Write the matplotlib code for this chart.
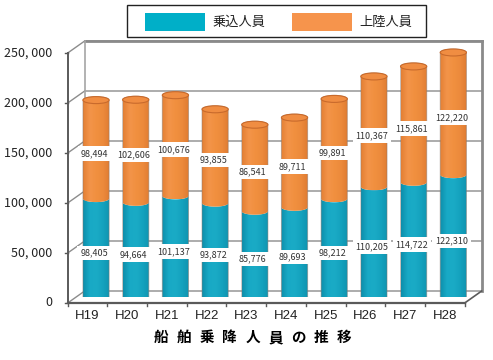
import numpy as np
import matplotlib
matplotlib.use("Agg")
import matplotlib.pyplot as plt
from matplotlib.path import Path
from matplotlib.patches import PathPatch, Ellipse, Rectangle
from matplotlib.colors import LinearSegmentedColormap

plt.rcParams['font.family'] = ['Noto Sans CJK JP', 'DejaVu Sans']

# 船舶乗降人員（人）
years = ['H19', 'H20', 'H21', 'H22', 'H23', 'H24', 'H25', 'H26', 'H27', 'H28']
boarding = [98405, 94664, 101137, 93872, 85776, 89693, 98212, 110205, 114722, 122310]
landing = [98494, 102606, 100676, 93855, 86541, 89711, 99891, 110367, 115861, 122220]
series_names = ['乗込人員', '上陸人員']
title = '船舶乗降人員の推移'
yticks = [0, 50000, 100000, 150000, 200000, 250000]

teal = '#00afc8'
orange = '#f6944c'
teal_cmap = LinearSegmentedColormap.from_list(
    'teal', ['#0d8eab', '#18a9c5', '#1aabc6', '#14a2be', '#0f93b0'])
orange_cmap = LinearSegmentedColormap.from_list(
    'orange', ['#e37f34', '#f3944a', '#f1903f', '#ec8a3c', '#df7b31'])

fig = plt.figure(figsize=(4.93, 3.6), dpi=100)
ax = fig.add_axes([0.1545, 0.175, 0.8053, 0.6944])
ax.set_xlim(-0.5, 9.5)
ax.set_ylim(0, 250000)
ax.axis('off')

# depth offsets of the pseudo-3D box (front = -d, back = +d)
dx, dy = 0.214, 6000
x0, x1 = -0.5, 9.5
ymax = yticks[-1]

# back wall grid
for v in yticks:
    ax.plot([x0 + dx, x1 + dx], [v + dy, v + dy], color='#a6a6a6', lw=1.3,
            clip_on=False, zorder=1)
    # left wall diagonals
    ax.plot([x0 - dx, x0 + dx], [v - dy, v + dy], color='#8c8c8c', lw=1.0,
            clip_on=False, zorder=1)
    # small tick on the front axis
    ax.plot([x0 - dx - 0.07, x0 - dx], [v - dy, v - dy], color='#555555', lw=1.0,
            clip_on=False, zorder=1)
    ax.text(x0 - dx - 0.38, v - dy, f'{v:,}'.replace(',', ', '), ha='right',
            va='center', fontsize=9, color='#222222', clip_on=False)

ax.plot([x0 + dx, x1 + dx], [ymax + dy, ymax + dy], color='#8a8a8a', lw=2.0,
        clip_on=False, zorder=1)
ax.plot([x1 + dx, x1 + dx], [dy, ymax + dy], color='#8a8a8a', lw=2.0,
        clip_on=False, zorder=1)
ax.plot([x0 + dx, x0 + dx], [dy, ymax + dy], color='#a6a6a6', lw=1.2,
        clip_on=False, zorder=1)

# floor
ax.plot([x0 - dx, x1 - dx], [-dy, -dy], color='#5a5a5a', lw=1.6,
        clip_on=False, zorder=6)
ax.plot([x1 - dx, x1 + dx], [-dy, dy], color='#5a5a5a', lw=1.2,
        clip_on=False, zorder=6)
ax.plot([x0 - dx, x0 - dx], [-dy, ymax - dy], color='#5a5a5a', lw=1.4,
        clip_on=False, zorder=6)
for k in range(len(years) + 1):
    xt = k - 0.5 - dx
    ax.plot([xt, xt], [-dy, -dy - 3500], color='#5a5a5a', lw=1.0,
            clip_on=False, zorder=6)
for i, yr in enumerate(years):
    ax.text(i - dx, -19500, yr, ha='center', va='center', fontsize=9.5,
            family=['Liberation Sans', 'DejaVu Sans'], color='#222222',
            clip_on=False)

# cylinders
w = 0.66
a = w / 2
b = 3500
t = np.linspace(0, np.pi, 40)


def segment(c, y_lo, y_hi, top_cap):
    xs_lo = c + a * np.cos(t[::-1])
    ys_lo = y_lo - b * np.sin(t[::-1])
    xs_hi = c + a * np.cos(t)
    ys_hi = y_hi + (b if top_cap else -b) * np.sin(t)
    verts = np.vstack([np.column_stack([xs_lo, ys_lo]),
                       np.column_stack([xs_hi, ys_hi]),
                       [[xs_lo[0], ys_lo[0]]]])
    codes = [Path.MOVETO] + [Path.LINETO] * (len(verts) - 2) + [Path.CLOSEPOLY]
    return Path(verts, codes)


grad = np.linspace(0, 1, 64).reshape(1, -1)
for i, (v1, v2) in enumerate(zip(boarding, landing)):
    total = v1 + v2
    for (lo, hi, cap, cmap) in [(0, v1, False, teal_cmap),
                                (v1, total, True, orange_cmap)]:
        p = PathPatch(segment(i, lo, hi, cap), facecolor='none',
                      edgecolor='none', zorder=3)
        ax.add_patch(p)
        im = ax.imshow(grad, cmap=cmap, aspect='auto', zorder=3,
                       extent=[i - a, i + a, lo - b, hi + b],
                       interpolation='bilinear')
        im.set_clip_path(p)
    # shadow outline and top cap
    ax.add_patch(PathPatch(segment(i, 0, total, True), facecolor='none',
                           edgecolor='#8a7a70', lw=0.7, alpha=0.5, zorder=4))
    ax.add_patch(Ellipse((i, total), w, 2 * b, facecolor='#f08d42',
                         edgecolor='#c86a2c', lw=0.8, zorder=4))

    ax.annotate(f'{v1:,}', (i, v1 / 2), xytext=(-2, -5),
                textcoords='offset pixels', ha='center', va='center',
                fontsize=6.5, color='#333333', zorder=7,
                bbox=dict(boxstyle='square,pad=0.3', fc='white', ec='none'))
    ax.annotate(f'{v2:,}', (i, v1 + v2 / 2), xytext=(-2, -4),
                textcoords='offset pixels', ha='center', va='center',
                fontsize=6.5, color='#333333', zorder=7,
                bbox=dict(boxstyle='square,pad=0.3', fc='white', ec='none'))

ax.set_xlim(-0.5, 9.5)
ax.set_ylim(0, 250000)

# legend
fig.patches.append(Rectangle((127 / 493, 1 - 37 / 360), 299 / 493, 32 / 360,
                             transform=fig.transFigure, facecolor='white',
                             edgecolor='#222222', lw=1.0))
fig.patches.append(Rectangle((145 / 493, 1 - 31 / 360), 60 / 493, 18 / 360,
                             transform=fig.transFigure, facecolor=teal,
                             edgecolor='none'))
fig.patches.append(Rectangle((292 / 493, 1 - 31 / 360), 60 / 493, 18 / 360,
                             transform=fig.transFigure, facecolor=orange,
                             edgecolor='none'))
fig.text(212 / 493, 1 - 22 / 360, series_names[0], ha='left', va='center',
         fontsize=9.5, color='#222222')
fig.text(359 / 493, 1 - 22 / 360, series_names[1], ha='left', va='center',
         fontsize=9.5, color='#222222')

# title, spread out across the bottom
for k, ch in enumerate(title):
    fig.text((161 + 22.9 * k) / 493, 1 - 337 / 360, ch, ha='center',
             va='center', fontsize=10.5, weight='bold', color='black')

fig.savefig('out.png', dpi=100)
